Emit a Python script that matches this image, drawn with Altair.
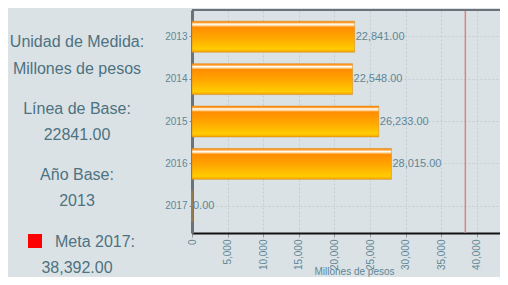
import altair as alt
import pandas as pd

years = ["2013", "2014", "2015", "2016", "2017"]
values = [22841.00, 22548.00, 26233.00, 28015.00, 0.00]
meta_value = 38392.00
x_ticks = [0, 5000, 10000, 15000, 20000, 25000, 30000, 35000, 40000]
side_texts = ["Unidad de Medida:", "Millones de pesos", "Línea de Base:", "22841.00",
              "Año Base:", "2013"]
meta_label = "Meta 2017:"
meta_text = "38,392.00"

df = pd.DataFrame({"year": years, "value": values})
meta_df = pd.DataFrame({"value": [meta_value]})

BG = "#dbe2e6"
LBL = "#5f8795"
TXT = "#4d7280"

x_axis = alt.Axis(values=x_ticks, format=",.0f", labelAngle=270, labelColor=LBL,
                  labelFontSize=10, labelFont="Liberation Sans",
                  title="Millones de pesos", titleColor=LBL, titleFontSize=10,
                  titleFontWeight="normal", titleFont="Liberation Sans",
                  titleX=162, titleY=33,
                  grid=True, gridColor="#c5cdd1", gridDash=[2, 2],
                  domainColor="#111111", domainWidth=2,
                  tickColor="#999999", tickSize=4)
x_scale = alt.Scale(domain=[0, 43258], nice=False)
x_enc = alt.X("value:Q", scale=x_scale, axis=x_axis)
y_enc = alt.Y("year:N", sort=years,
              scale=alt.Scale(paddingInner=0.27, paddingOuter=0.265),
              axis=alt.Axis(title=None, labelColor=LBL, labelFontSize=10,
                            labelFont="Liberation Sans", labelPadding=2,
                            grid=True, gridColor="#c5cdd1", gridDash=[2, 2],
                            domainColor="#6b7378", domainWidth=3,
                            tickColor="#888888", tickSize=3))

grad = alt.LinearGradient(
    gradient="linear", x1=0, y1=0, x2=0, y2=1,
    stops=[alt.GradientStop(offset=0.0, color="#ff8a00"),
           alt.GradientStop(offset=0.05, color="#ffa030"),
           alt.GradientStop(offset=0.09, color="#ffffff"),
           alt.GradientStop(offset=0.14, color="#ffd9a0"),
           alt.GradientStop(offset=0.19, color="#ff8c00"),
           alt.GradientStop(offset=0.55, color="#ffa800"),
           alt.GradientStop(offset=0.9, color="#ffcc00"),
           alt.GradientStop(offset=1.0, color="#f5a000")])

base = alt.Chart(df)
bars = base.mark_bar(color=grad, stroke="#d08a20", strokeWidth=0.5).encode(x=x_enc, y=y_enc)
labels = base.mark_text(align="left", baseline="middle", dx=1, color=LBL, fontSize=11,
                        font="Liberation Sans").encode(
    x=x_enc, y=y_enc,
    text=alt.Text("value:Q", format=",.2f"))
rule = alt.Chart(meta_df).mark_rule(color="#d88484", strokeWidth=1.5).encode(x=x_enc)
top_border = alt.Chart(meta_df).mark_rule(color="#6b7378", strokeWidth=2).encode(
    x=alt.value(0), x2=alt.value(308), y=alt.value(0))


def side_text(t, xx, yy):
    return alt.Chart(pd.DataFrame({"t": [t]})).mark_text(
        align="center", baseline="middle", fontSize=16, color=TXT,
        font="Liberation Sans").encode(x=alt.value(xx), y=alt.value(yy), text="t:N")


side_y = [32, 59, 99, 125, 165, 191]
side_layers = [side_text(t, -115, yy) for t, yy in zip(side_texts, side_y)]
side_layers.append(side_text(meta_label, -97, 232))
side_layers.append(side_text(meta_text, -115, 258))
side_layers.append(
    alt.Chart(pd.DataFrame({"t": [meta_label]})).mark_square(
        size=196, color="#ff0000", opacity=1, filled=True).encode(
        x=alt.value(-157), y=alt.value(231)))

chart = alt.layer(bars, labels, rule, top_border, *side_layers).properties(
    width=308, height=223,
    autosize=alt.AutoSizeParams(type="none"),
    padding={"left": 184, "top": 2, "right": 0, "bottom": 44},
    background=BG,
).configure_view(strokeWidth=0)

chart.save("out.html", embed_options={"renderer": "svg", "actions": False})
